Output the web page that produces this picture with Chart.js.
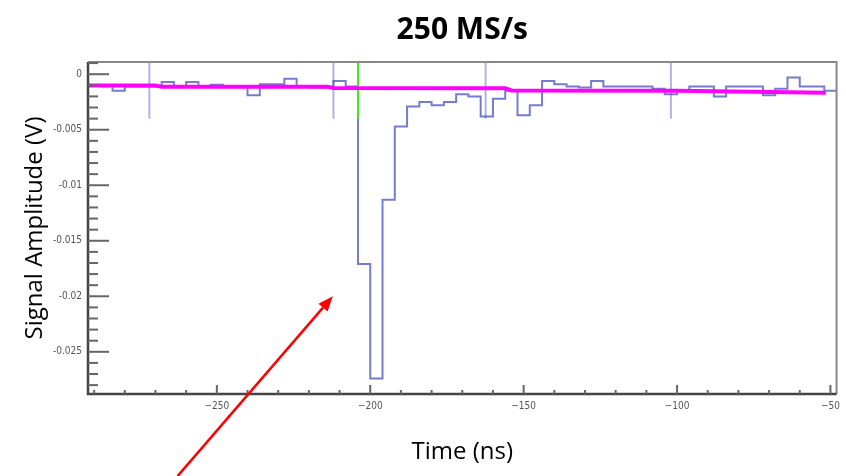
<!DOCTYPE html>
<html>
<head>
<meta charset="utf-8">
<script src="https://cdn.jsdelivr.net/npm/chart.js@4.4.1/dist/chart.umd.min.js"></script>
<style>
  html, body { margin: 0; padding: 0; background: #fff; }
  #wrap { width: 846px; height: 476px; position: relative; }
</style>
</head>
<body>
<div id="wrap"><canvas id="c"></canvas></div>
<script>
// Bin start times (ns), 4 ns bins (250 MS/s)
const binTimes = [
  -292, -288, -284, -280, -276, -272, -268, -264, -260, -256,
  -252, -248, -244, -240, -236, -232, -228, -224, -220, -216,
  -212, -208, -204, -200, -196, -192, -188, -184, -180, -176,
  -172, -168, -164, -160, -156, -152, -148, -144, -140, -136,
  -132, -128, -124, -120, -116, -112, -108, -104, -100, -96,
  -92, -88, -84, -80, -76, -72, -68, -64, -60, -56,
  -52, -48
];

// Signal amplitude per bin (V)
const amplitude = [
  -0.0010, -0.0010, -0.0015, -0.0011, -0.0011, -0.0011, -0.0007, -0.0011, -0.0007, -0.0011,
  -0.00095, -0.0011, -0.0011, -0.0019, -0.0009, -0.0009, -0.0004, -0.0011, -0.0012, -0.0012,
  -0.0006, -0.0011, -0.0171, -0.0274, -0.0113, -0.0047, -0.0029, -0.0025, -0.0028, -0.0025,
  -0.0018, -0.0020, -0.0038, -0.0022, -0.0015, -0.0037, -0.0028, -0.0006, -0.0009, -0.0011,
  -0.0012, -0.0006, -0.0011, -0.0011, -0.0011, -0.0011, -0.0013, -0.0018, -0.0015, -0.0011,
  -0.0011, -0.0020, -0.0011, -0.0011, -0.0011, -0.0019, -0.0013, -0.0003, -0.0011, -0.0011,
  -0.0015
];

// Baseline (magenta)
const baselineTimes = [-292, -270, -268, -214, -212, -156, -154, -100, -51.5];
const baselineLevels = [-0.00102, -0.00102, -0.00112, -0.00112, -0.00124, -0.00126, -0.00146, -0.0015, -0.00168];

// Light vertical markers and trigger (green) line
const markerTimes = [-272, -212, -162.4, -102];
const markerTop = 0.0011;
const markerBottom = -0.004;
const triggerTime = -204;

// Axis ticks
const xTickValues = [-250, -200, -150, -100, -50];
const xTickLabels = ['\u2212250', '\u2212200', '\u2212150', '\u2212100', '\u221250'];
const yTickValues = [0, -0.005, -0.01, -0.015, -0.02, -0.025];
const yTickLabels = ['0', '-0.005', '-0.01', '-0.015', '-0.02', '-0.025'];

// Arrow annotation (data coordinates: tail, tip)
const arrowTail = { x: -262.8, y: -0.0362 };
const arrowTip = { x: -212.2, y: -0.0200 };

const stepPoints = binTimes.map((t, i) => ({ x: t, y: amplitude[Math.min(i, amplitude.length - 1)] }));
const basePoints = baselineTimes.map((t, i) => ({ x: t, y: baselineLevels[i] }));
const markerPoints = [];
markerTimes.forEach(t => {
  markerPoints.push({ x: t, y: markerTop }, { x: t, y: markerBottom }, { x: t, y: null });
});

const tickFont = { family: "'Liberation Sans Narrow', 'DejaVu Sans Condensed', sans-serif", size: 10 };
const labelFont = { family: "'Open Sans', sans-serif", size: 24, lineHeight: 1.2 };

// Frame, inward ticks and the red arrow
const framePlugin = {
  id: 'frame',
  afterDatasetsDraw(chart) {
    const { ctx, chartArea: a, scales: { x, y } } = chart;
    ctx.save();
    // frame
    ctx.strokeStyle = '#888';
    ctx.lineWidth = 2;
    ctx.beginPath();
    ctx.moveTo(a.left, a.top); ctx.lineTo(a.right, a.top); ctx.lineTo(a.right, a.bottom);
    ctx.stroke();
    ctx.strokeStyle = '#444';
    ctx.lineWidth = 2.5;
    ctx.beginPath();
    ctx.moveTo(a.left, a.top); ctx.lineTo(a.left, a.bottom); ctx.lineTo(a.right, a.bottom);
    ctx.stroke();

    // y ticks, minor every 0.001, major every 0.005
    ctx.strokeStyle = '#666';
    ctx.lineWidth = 2;
    for (let k = -28; k <= 1; k++) {
      const py = y.getPixelForValue(k / 1000);
      const len = k % 5 === 0 ? 21 : 10;
      ctx.beginPath();
      ctx.moveTo(a.left, py); ctx.lineTo(a.left + len, py);
      ctx.stroke();
    }
    // x ticks, minor every 10, major every 50
    for (let t = -290; t <= -50; t += 10) {
      const px = x.getPixelForValue(t);
      const len = t % 50 === 0 ? 9 : 4;
      ctx.beginPath();
      ctx.moveTo(px, a.bottom); ctx.lineTo(px, a.bottom - len);
      ctx.stroke();
    }

    // arrow
    const x0 = x.getPixelForValue(arrowTail.x), y0 = y.getPixelForValue(arrowTail.y);
    const x1 = x.getPixelForValue(arrowTip.x), y1 = y.getPixelForValue(arrowTip.y);
    const ang = Math.atan2(y1 - y0, x1 - x0);
    const head = 15, half = 6;
    const bx = x1 - head * Math.cos(ang), by = y1 - head * Math.sin(ang);
    ctx.strokeStyle = '#ff0000';
    ctx.fillStyle = '#ff0000';
    ctx.lineWidth = 2.5;
    ctx.beginPath();
    ctx.moveTo(x0, y0); ctx.lineTo(bx, by);
    ctx.stroke();
    ctx.beginPath();
    ctx.moveTo(x1, y1);
    ctx.lineTo(bx + half * Math.sin(ang), by - half * Math.cos(ang));
    ctx.lineTo(bx - half * Math.sin(ang), by + half * Math.cos(ang));
    ctx.closePath();
    ctx.fill();
    ctx.restore();
  }
};

new Chart(document.getElementById('c'), {
  type: 'line',
  data: {
    datasets: [
      {
        label: 'baseline',
        data: basePoints,
        borderColor: '#ff00ff',
        borderWidth: 4,
        pointRadius: 0,
        tension: 0,
        order: 0
      },
      {
        label: 'trigger',
        data: [{ x: triggerTime, y: markerTop }, { x: triggerTime, y: markerBottom }],
        borderColor: '#3ee81e',
        borderWidth: 2,
        pointRadius: 0,
        order: 1
      },
      {
        label: 'signal',
        data: stepPoints,
        stepped: 'before',
        borderColor: 'rgba(70, 80, 190, 0.75)',
        borderWidth: 2,
        pointRadius: 0,
        order: 2
      },
      {
        label: 'markers',
        data: markerPoints,
        spanGaps: false,
        borderColor: 'rgba(150, 155, 220, 0.75)',
        borderWidth: 2,
        pointRadius: 0,
        order: 3
      }
    ]
  },
  options: {
    responsive: true,
    maintainAspectRatio: false,
    animation: false,
    layout: { padding: { left: 0, right: 6, top: 0, bottom: 0 } },
    plugins: {
      legend: { display: false },
      tooltip: { enabled: false },
      title: {
        display: true,
        text: '250 MS/s',
        fullSize: false,
        color: '#000',
        font: { family: "'Open Sans', sans-serif", size: 30, weight: 'bold', lineHeight: 1.2 },
        padding: { top: 12, bottom: 14 }
      }
    },
    scales: {
      x: {
        type: 'linear',
        min: -292,
        max: -48,
        grid: { display: false, drawTicks: false },
        border: { display: false },
        afterFit: s => { s.height = 82; },
        afterBuildTicks: s => { s.ticks = xTickValues.map(v => ({ value: v })); },
        ticks: {
          autoSkip: false,
          maxRotation: 0,
          padding: 6,
          color: '#555',
          font: tickFont,
          callback: v => xTickLabels[xTickValues.indexOf(v)]
        },
        title: {
          display: true,
          text: 'Time (ns)',
          color: '#000',
          font: labelFont,
          padding: { top: 0, bottom: 9.6 }
        }
      },
      y: {
        type: 'linear',
        min: -0.0288,
        max: 0.0011,
        grid: { display: false, drawTicks: false },
        border: { display: false },
        afterFit: s => { s.width = 88; },
        afterBuildTicks: s => { s.ticks = yTickValues.map(v => ({ value: v })); },
        ticks: {
          autoSkip: false,
          padding: 6,
          color: '#555',
          font: tickFont,
          callback: v => yTickLabels[yTickValues.indexOf(v)]
        },
        title: {
          display: true,
          text: 'Signal Amplitude (V)',
          color: '#000',
          font: labelFont,
          padding: { top: 21, bottom: 0 }
        }
      }
    }
  },
  plugins: [framePlugin]
});
</script>
</body>
</html>
